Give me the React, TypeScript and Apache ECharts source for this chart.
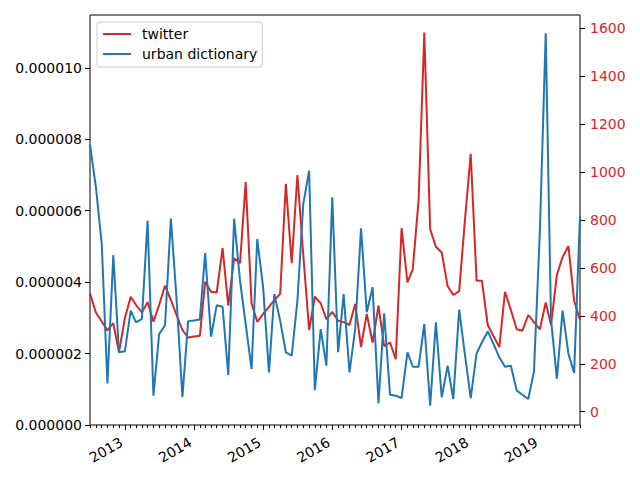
import React, { useEffect, useRef } from "react";
import * as echarts from "echarts";

// Monthly series, first month July 2012, last month August 2019
const START_YEAR = 2012;
const START_MONTH = 6; // 0-based (July)

// twitter frequency, in millionths (left axis)
const twitterMicro = [
  3.69, 3.15, 2.9, 2.65, 2.85, 2.04, 2.99, 3.59, 3.36, 3.15,
  3.44, 2.89, 3.36, 3.9, 3.5, 3.08, 2.66, 2.45, 2.48, 2.5,
  4.01, 3.73, 3.71, 4.95, 3.34, 4.67, 4.53, 6.8, 3.41, 2.89,
  3.11, 3.31, 3.5, 3.67, 6.75, 4.53, 7.0, 4.76, 2.66, 3.59,
  3.41, 2.96, 3.17, 2.92, 2.88, 2.8, 3.39, 2.19, 3.11, 2.31,
  3.34, 2.21, 2.31, 1.84, 5.51, 3.99, 4.36, 6.3, 10.99, 5.48,
  4.99, 4.83, 3.89, 3.64, 3.75, 5.7, 7.59, 4.04, 4.04, 2.8,
  2.49, 2.18, 3.73, 3.22, 2.68, 2.64, 3.08, 2.88, 2.68, 3.43,
  2.8, 4.2, 4.7, 5.01, 3.48, 2.94,
];

// urban dictionary counts (right axis)
const urbanDictionary = [
  1115, 938, 700, 118, 654, 248, 252, 422, 373, 387,
  797, 67, 324, 360, 806, 470, 62, 378, 381, 385,
  662, 313, 444, 438, 153, 805, 547, 366, 178, 721,
  519, 164, 491, 380, 248, 234, 463, 867, 1006, 90,
  345, 192, 895, 248, 491, 164, 345, 765, 415, 519,
  35, 411, 71, 67, 57, 248, 188, 188, 366, 25,
  373, 60, 192, 53, 426, 241, 57, 244, 289, 335,
  283, 227, 188, 192, 88, 71, 53, 168, 750, 1579,
  383, 138, 422, 242, 162, 818,
];

const yearTickLabels = [2013, 2014, 2015, 2016, 2017, 2018, 2019];
const leftTickMicro = [0, 2, 4, 6, 8, 10];
const rightTicks = [0, 200, 400, 600, 800, 1000, 1200, 1400, 1600];

const RED = "#d62728";
const BLUE = "#1f77b4";
const FONT = "DejaVu Sans";

export default function App() {
  const ref = useRef<HTMLDivElement>(null);

  useEffect(() => {
    if (!ref.current) return;
    const chart = echarts.init(ref.current, undefined, { renderer: "svg" });

    const dates = twitterMicro.map((_, i) => Date.UTC(START_YEAR, START_MONTH + i, 1));
    const xMin = dates[0];
    const xMax = dates[dates.length - 1];
    const yearTicks = yearTickLabels.map((y) => Date.UTC(y, 0, 1));
    const monthTicks: number[] = dates.filter((d) => yearTicks.indexOf(d) < 0);
    const leftTicks = leftTickMicro.map((v) => v * 1e-6);

    const tickLine = { color: "#000", width: 1 };

    const option: any = {
      animation: false,
      backgroundColor: "#ffffff",
      textStyle: { fontFamily: FONT },
      grid: {
        left: 90,
        right: 60,
        top: 15,
        bottom: 55,
        show: true,
        borderColor: "#000",
        borderWidth: 1,
        backgroundColor: "transparent",
      },
      legend: {
        data: ["twitter", "urban dictionary"],
        orient: "vertical",
        left: 97,
        top: 22,
        icon: "rect",
        itemWidth: 28,
        itemHeight: 2,
        itemGap: 6,
        padding: [5, 5, 6, 6],
        borderColor: "#cccccc",
        borderWidth: 1,
        borderRadius: 3,
        backgroundColor: "rgba(255,255,255,0.8)",
        textStyle: {
          fontFamily: FONT,
          fontSize: 14,
          color: "#000",
          padding: [0, 0, 0, 6],
        },
      },
      xAxis: [
        {
          type: "value",
          min: xMin,
          max: xMax,
          position: "bottom",
          axisLine: { show: false, onZero: false },
          axisTick: {
            show: true,
            customValues: yearTicks,
            length: 5,
            lineStyle: tickLine,
          },
          axisLabel: {
            show: true,
            customValues: yearTicks,
            formatter: (v: number) => String(new Date(v).getUTCFullYear()),
            rotate: 30,
            margin: 14,
            padding: [0, 4, 0, 0],
            color: "#000",
            fontFamily: FONT,
            fontSize: 14,
          },
          splitLine: { show: false },
        },
        {
          type: "value",
          min: xMin,
          max: xMax,
          position: "bottom",
          axisLine: { show: false, onZero: false },
          axisTick: {
            show: true,
            customValues: monthTicks,
            length: 3,
            lineStyle: tickLine,
          },
          axisLabel: {
            show: true,
            customValues: monthTicks,
            formatter: () => "",
          },
          splitLine: { show: false },
        },
      ],
      yAxis: [
        {
          type: "value",
          position: "left",
          min: 0,
          max: 11.48e-6,
          axisLine: { show: false, onZero: false },
          axisTick: {
            show: true,
            customValues: leftTicks,
            length: 5,
            lineStyle: tickLine,
          },
          axisLabel: {
            show: true,
            customValues: leftTicks,
            formatter: (v: number) => v.toFixed(6),
            margin: 8,
            color: "#000",
            fontFamily: FONT,
            fontSize: 14,
          },
          splitLine: { show: false },
        },
        {
          type: "value",
          position: "right",
          min: -55.5,
          max: 1655.6,
          axisLine: { show: false, onZero: false },
          axisTick: {
            show: true,
            customValues: rightTicks,
            length: 5,
            lineStyle: tickLine,
          },
          axisLabel: {
            show: true,
            customValues: rightTicks,
            formatter: (v: number) => String(Math.round(v)),
            margin: 10,
            color: RED,
            fontFamily: FONT,
            fontSize: 14,
          },
          splitLine: { show: false },
        },
      ],
      series: [
        {
          name: "twitter",
          type: "line",
          xAxisIndex: 0,
          yAxisIndex: 0,
          data: dates.map((d, i) => [d, twitterMicro[i] * 1e-6]),
          symbol: "none",
          showSymbol: false,
          lineStyle: { color: RED, width: 2 },
          itemStyle: { color: RED },
          z: 2,
        },
        {
          name: "urban dictionary",
          type: "line",
          xAxisIndex: 0,
          yAxisIndex: 1,
          data: dates.map((d, i) => [d, urbanDictionary[i]]),
          symbol: "none",
          showSymbol: false,
          lineStyle: { color: BLUE, width: 2 },
          itemStyle: { color: BLUE },
          z: 3,
        },
      ],
    };

    chart.setOption(option);
    return () => chart.dispose();
  }, []);

  return (
    <div
      ref={ref}
      style={{ position: "fixed", left: 0, top: 0, width: 640, height: 480, background: "#fff" }}
    />
  );
}
